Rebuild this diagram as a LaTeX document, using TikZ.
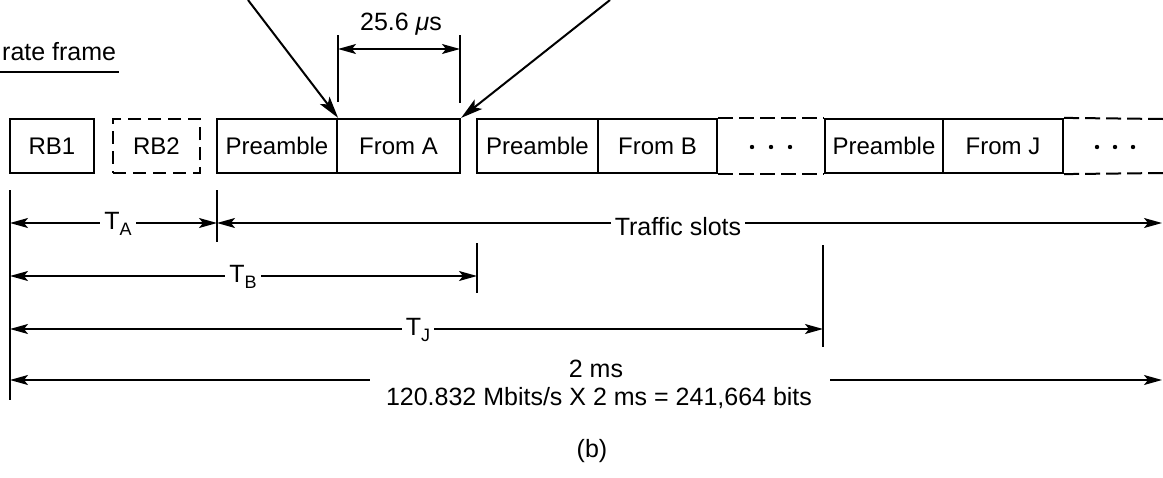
\documentclass[tikz,border=0pt]{standalone}
\usepackage{fontspec}
\setmainfont{Liberation Sans}
\usetikzlibrary{arrows.meta}
\newcommand{\subA}[1]{\raisebox{-6.5pt}{\fontsize{18}{18}\selectfont #1}}
\begin{document}
\begin{tikzpicture}[x=1pt,y=-1pt,
  >={Stealth[length=18pt,width=10pt,inset=4pt]},
  lbl/.style={font=\fontsize{25}{30}\selectfont},
  boxlbl/.style={font=\fontsize{24}{28}\selectfont},
  box/.style={draw, line width=2.2pt, minimum height=54pt, inner sep=0pt, boxlbl},
  dbox/.style={box, dash pattern=on 13pt off 7pt},
  rail/.style={line width=2pt, dash pattern=on 15pt off 6pt},
  dimline/.style={line width=1.5pt},
  tickline/.style={line width=2pt},
  pointer/.style={line width=2pt, -{Stealth[length=22pt,width=12pt,inset=5pt]}},
  cover/.style={lbl, fill=white, inner xsep=4pt, inner ysep=1pt, anchor=base},
  plain/.style={lbl, anchor=base, inner sep=0pt},
]
\useasboundingbox (0,0) rectangle (1163,477);

% ---- frame caption
\node[lbl, anchor=base west, inner sep=0pt] (frame) at (2,60) {rate frame};
\coordinate (ulL) at (0,72);
\coordinate (ulR) at (119,72);
\draw[line width=1.8pt] (ulL) -- (ulR);

% ---- slot boxes
\node[box,  minimum width=84pt]  (rb1)   at (52,146)    {RB1};
\node[dbox, minimum width=87pt]  (rb2)   at (156.5,146) {RB2};
\node[box,  minimum width=120pt] (preA)  at (277,146)   {Preamble};
\node[box,  minimum width=123pt] (fromA) at (398.5,146) {From A};
\node[box,  minimum width=121pt] (preB)  at (537.5,146) {Preamble};
\node[box,  minimum width=119pt] (fromB) at (657.5,146) {From B};
\node[box,  minimum width=118pt] (preJ)  at (884,146)   {Preamble};
\node[box,  minimum width=120pt] (fromJ) at (1003,146)  {From J};

% dashed rails and dots
\draw[rail] (fromB.north east) -- (preJ.north west);
\draw[rail] (fromB.south east) -- (preJ.south west);
\coordinate (railEndT) at (1163,119);
\coordinate (railEndB) at (1163,173);
\draw[rail] (fromJ.north east) -- (railEndT);
\draw[rail] (fromJ.south east) -- (railEndB);
\foreach \x in {752,771,790,1097,1115,1133} \fill (\x,147) circle (2.2pt);

% ---- pointers from above
\coordinate (p1) at (248,0);
\coordinate (p2) at (610,0);
\draw[pointer] (p1) -- (preA.north east);
\draw[pointer] (p2) -- (fromA.north east);

% ---- 25.6 us dimension
\coordinate (u1t) at (338,35);  \coordinate (u1b) at (338,102);
\coordinate (u2t) at (460,35);  \coordinate (u2b) at (460,103);
\draw[tickline] (u1t) -- (u1b);
\draw[tickline] (u2t) -- (u2b);
\coordinate (u1) at (338,49);
\coordinate (u2) at (460,49);
\draw[dimline, <->] (u1) -- (u2);
\node[plain] (mu) at (401,30) {25.6 \textit{μ}s};

% ---- extension ticks
\coordinate (L0t) at (10,190);  \coordinate (L0b) at (10,400);
\coordinate (TAt) at (217,190); \coordinate (TAb) at (217,242);
\coordinate (TBt) at (477,243); \coordinate (TBb) at (477,293);
\coordinate (TJt) at (823,245); \coordinate (TJb) at (823,347);
\draw[tickline] (L0t) -- (L0b);
\draw[tickline] (TAt) -- (TAb);
\draw[tickline] (TBt) -- (TBb);
\draw[tickline] (TJt) -- (TJb);

% ---- dimension lines
\coordinate (a0) at (10,223);  \coordinate (a1) at (217,223); \coordinate (a2) at (1162,223);
\coordinate (b0) at (10,276);  \coordinate (b1) at (477,276);
\coordinate (j0) at (10,329);  \coordinate (j1) at (823,329);
\coordinate (m0) at (10,380);  \coordinate (m1) at (370,380);
\coordinate (m2) at (830,380); \coordinate (m3) at (1162,380);
\draw[dimline, <->] (a0) -- (a1);
\draw[dimline, <->] (a1) -- (a2);
\draw[dimline, <->] (b0) -- (b1);
\draw[dimline, <->] (j0) -- (j1);
\draw[dimline, <-] (m0) -- (m1);
\draw[dimline, ->] (m2) -- (m3);

% ---- labels
\node[cover] (lTA) at (118,229) {T\subA{A}};
\node[cover] (lTS) at (678,235) {Traffic slots};
\node[cover] (lTB) at (243,282) {T\subA{B}};
\node[cover] (lTJ) at (418,335) {T\subA{J}};
\node[plain] (l2ms) at (596,377) {2 ms};
\node[plain] (lbits) at (599,405) {120.832 Mbits/s X 2 ms = 241,664 bits};
\node[plain] (cap) at (592,457) {(b)};
\end{tikzpicture}
\end{document}
